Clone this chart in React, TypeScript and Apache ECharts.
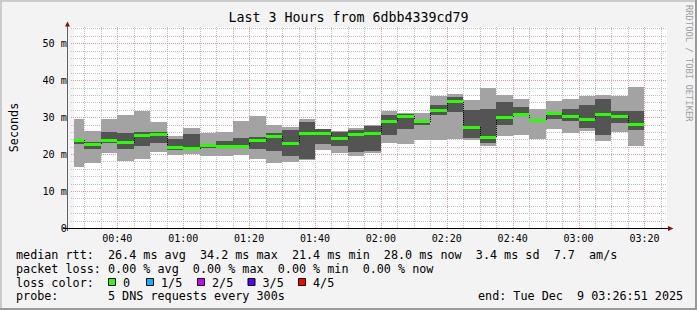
import React, { useEffect, useRef } from "react";
import * as echarts from "echarts";

// ---------- data ----------
const chartTitle = "Last 3 Hours from 6dbb4339cd79";
const yAxisName = "Seconds";
const watermark = "RRDTOOL / TOBI OETIKER";
const endTime = "03:26:51";
const rangeMinutes = 180;
const stepMinutes = 5;

// end time of each 5-minute step
const binEnd = [
  "00:30", "00:35", "00:40", "00:45", "00:50", "00:55", "01:00", "01:05", "01:10", "01:15",
  "01:20", "01:25", "01:30", "01:35", "01:40", "01:45", "01:50", "01:55", "02:00", "02:05",
  "02:10", "02:15", "02:20", "02:25", "02:30", "02:35", "02:40", "02:45", "02:50", "02:55",
  "03:00", "03:05", "03:10", "03:15", "03:20",
];
// sorted pings of each step, in ms
const pingMin = [16.6, 17.5, 20.3, 18.0, 18.6, 20.6, 19.7, 20.1, 19.6, 19.4, 19.8, 18.7, 17.7, 17.9, 18.4, 21.2, 20.4, 19.6, 20.2, 23.1, 22.6, 23.9, 23.9, 24.2, 23.9, 22.2, 24.9, 25.1, 24.2, 26.7, 25.6, 26.3, 23.6, 26.0, 22.1];
const pingLow = [22.6, 21.3, 23.0, 21.5, 22.1, 23.1, 21.2, 21.1, 21.6, 21.7, 21.6, 21.4, 20.9, 19.6, 18.6, 22.7, 22.3, 20.7, 20.8, 25.3, 26.9, 27.8, 30.5, 31.4, 24.4, 22.9, 28.0, 30.2, 28.9, 29.6, 29.0, 27.2, 25.1, 28.5, 26.4];
const medianRtt = [23.8, 22.6, 23.6, 23.1, 25.0, 25.4, 21.7, 21.4, 22.2, 22.1, 22.1, 23.6, 24.8, 23.0, 25.6, 25.6, 24.2, 25.2, 25.6, 28.9, 30.3, 28.7, 31.9, 34.2, 27.3, 24.6, 30.0, 30.7, 29.2, 31.1, 30.3, 29.4, 30.7, 30.2, 28.0];
const pingHigh = [24.2, 23.3, 26.0, 25.8, 26.0, 26.1, 24.1, 25.5, 22.6, 23.5, 24.4, 24.7, 25.8, 26.6, 28.7, 26.8, 25.9, 26.6, 27.7, 30.5, 30.8, 29.2, 33.4, 35.5, 32.0, 32.3, 34.1, 32.8, 29.6, 31.4, 32.1, 33.4, 35.0, 31.7, 31.7];
const pingMax = [29.5, 26.3, 29.5, 30.6, 31.7, 28.7, 25.0, 27.1, 25.8, 26.0, 28.9, 30.4, 28.0, 27.3, 29.5, 26.9, 26.2, 27.1, 27.9, 31.7, 31.2, 31.2, 35.6, 36.3, 34.7, 38.0, 36.1, 35.0, 32.3, 34.4, 35.0, 35.7, 35.9, 35.6, 38.2];

const xTickLabels = ["00:40", "01:00", "01:20", "01:40", "02:00", "02:20", "02:40", "03:00", "03:20"];
const yTickValues = [0, 10, 20, 30, 40, 50];
const yMax = 54.4;

const rttLabel = "median rtt:";
const rttStats = ["26.4 ms avg", "34.2 ms max", "21.4 ms min", "28.0 ms now", "3.4 ms sd", "7.7", "am/s"];
const lossLabel = "packet loss:";
const lossStats = ["0.00 % avg", "0.00 % max", "0.00 % min", "0.00 % now"];
const lossColorLabel = "loss color:";
const lossNames = ["0", "1/5", "2/5", "3/5", "4/5"];
const lossColors = ["#26ff00", "#00b8ff", "#d000ff", "#5a00ff", "#ff0000"];
const probeLabel = "probe:";
const probeText = "5 DNS requests every 300s";
const endText = "end: Tue Dec  9 03:26:51 2025";

// ---------- helpers ----------
const toMin = (t: string) => {
  const p = t.split(":").map(Number);
  return p[0] * 60 + p[1] + (p[2] || 0) / 60;
};
const fmt = (m: number) => {
  const r = Math.round(m);
  const h = Math.floor(r / 60);
  const mm = r % 60;
  return `${String(h).padStart(2, "0")}:${String(mm).padStart(2, "0")}`;
};
const nb = (s: string) => s.replace(/ /g, "\u00a0");
const pad = (s: string, n: number) => s + " ".repeat(Math.max(0, n - s.length));
const xMax = toMin(endTime);
const xMin = xMax - rangeMinutes;

const MONO = "'DejaVu Sans Mono', monospace";

export default function App() {
  const ref = useRef<HTMLDivElement>(null);
  useEffect(() => {
    document.body.style.margin = "0";
    if (!ref.current) return;
    const chart = echarts.init(ref.current, null, { renderer: "svg" });

    const binData = binEnd.map((t, i) => [
      toMin(t) - stepMinutes, toMin(t), pingMin[i], pingLow[i], medianRtt[i], pingHigh[i], pingMax[i], i,
    ]);

    const light = "#a3a3a3";
    const dark = "#545454";
    const green = "#26ff00";
    const minorGrid = "#c0c0c0";
    const majorGrid = "#e89a9a";
    const FS = 11.75;

    const txt = (text: string, x: number, y: number, extra: any = {}) => ({
      type: "text",
      x, y, z: 100,
      style: { text: nb(text), fill: "#000", fontFamily: MONO, fontSize: FS, verticalAlign: "middle", align: "left", ...extra },
    });

    const graphics: any[] = [];
    // 3D frame
    graphics.push({ type: "rect", shape: { x: 0, y: 0, width: 697, height: 2 }, style: { fill: "#cbcbcb" }, z: 100 });
    graphics.push({ type: "rect", shape: { x: 0, y: 0, width: 2, height: 310 }, style: { fill: "#cbcbcb" }, z: 100 });
    graphics.push({ type: "rect", shape: { x: 0, y: 308, width: 697, height: 2 }, style: { fill: "#999999" }, z: 100 });
    graphics.push({ type: "rect", shape: { x: 695, y: 0, width: 2, height: 310 }, style: { fill: "#999999" }, z: 100 });
    // axes and arrows
    graphics.push({ type: "line", z: 100, shape: { x1: 67.5, y1: 25, x2: 67.5, y2: 231 }, style: { stroke: "#606060", lineWidth: 1 } });
    graphics.push({ type: "line", z: 100, shape: { x1: 63, y1: 228.5, x2: 669, y2: 228.5 }, style: { stroke: "#000", lineWidth: 1 } });
    graphics.push({ type: "polygon", z: 101, shape: { points: [[65, 26.5], [70, 26.5], [67.5, 21.5]] }, style: { fill: "#8a1010" } });
    graphics.push({ type: "polygon", z: 101, shape: { points: [[668, 226], [668, 231], [673.5, 228.5]] }, style: { fill: "#8a1010" } });
    // watermark
    graphics.push({
      type: "text", x: 689, y: 5, rotation: -Math.PI / 2, z: 100,
      style: { text: nb(watermark), fill: "#a0a0a0", fontFamily: MONO, fontSize: 8.8, verticalAlign: "middle", align: "left" },
    });
    // stats (monospaced lines; item columns as in rrdtool's legend)
    const y1 = 255, y2 = 268.5, y3 = 282.5, y4 = 296;
    graphics.push(txt(pad(rttLabel, 13) + rttStats.join("  "), 16, y1));
    graphics.push(txt(pad(lossLabel, 13) + lossStats.join("  "), 16, y2));
    graphics.push(txt(lossColorLabel, 16, y3));
    const boxX = [108, 146, 197, 247.5, 298];
    lossNames.forEach((n, i) => {
      graphics.push({ type: "rect", z: 100, shape: { x: boxX[i] + 0.5, y: 278.5, width: 7, height: 7 }, style: { fill: lossColors[i], stroke: "#000", lineWidth: 1 } });
      graphics.push(txt(n, boxX[i] + 15, y3));
    });
    graphics.push(txt(pad(probeLabel, 13) + probeText, 16, y4));
    graphics.push(txt(endText, 478, y4));

    const option: any = {
      animation: false,
      backgroundColor: "#f3f3f3",
      textStyle: { fontFamily: MONO },
      title: {
        text: chartTitle, left: "center", top: 11, padding: 0,
        textStyle: { fontFamily: MONO, fontSize: 13.3, fontWeight: "normal", color: "#000" },
      },
      grid: { left: 67, top: 27, width: 600, height: 201, show: true, backgroundColor: "#ffffff", borderWidth: 0 },
      xAxis: {
        type: "value", min: xMin, max: xMax,
        axisLine: { show: false }, axisTick: { show: false }, splitLine: { show: false },
        axisLabel: {
          customValues: xTickLabels.map(toMin),
          formatter: (v: number) => fmt(v),
          fontFamily: MONO, fontSize: 10, color: "#000", margin: 5,
        },
      },
      yAxis: {
        type: "value", min: 0, max: yMax, interval: 10,
        name: yAxisName, nameLocation: "middle", nameGap: 54, nameRotate: 90,
        nameTextStyle: { fontFamily: MONO, fontSize: FS, color: "#000" },
        axisLine: { show: false }, axisTick: { show: false }, splitLine: { show: false },
        axisLabel: {
          formatter: (v: number) => (yTickValues.indexOf(v) < 0 ? "" : v === 0 ? "0" : nb(`${v} m`)),
          fontFamily: MONO, fontSize: 10.2, color: "#000", margin: 7,
        },
      },
      graphic: graphics,
      series: [
        {
          type: "custom", silent: true, z: 1,
          data: [[xMin + 1, 1]],
          renderItem: (params: any, api: any) => {
            const cs = params.coordSys;
            const children: any[] = [];
            for (let m = Math.ceil(xMin / 5) * 5; m <= xMax; m += 5) {
              const x = Math.round(api.coord([m, 0])[0]) + 0.5;
              children.push({
                type: "line", shape: { x1: x, y1: cs.y, x2: x, y2: cs.y + cs.height },
                style: { stroke: m % 20 === 0 ? majorGrid : minorGrid, lineWidth: 1, lineDash: [1, 1] },
              });
            }
            for (let v = 2; v <= yMax; v += 2) {
              const y = Math.round(api.coord([xMin, v])[1]) + 0.5;
              children.push({
                type: "line", shape: { x1: cs.x - 3, y1: y, x2: cs.x + cs.width, y2: y },
                style: { stroke: v % 10 === 0 ? majorGrid : minorGrid, lineWidth: 1, lineDash: [1, 1] },
              });
            }
            return { type: "group", children };
          },
        },
        {
          type: "custom", silent: true, z: 2,
          data: binData,
          renderItem: (params: any, api: any) => {
            const cs = params.coordSys;
            const i = api.value(7);
            const x0 = Math.max(Math.round(api.coord([api.value(0), 0])[0]), cs.x);
            const x1 = Math.round(api.coord([api.value(1), 0])[0]);
            const yy = (v: number) => Math.round(api.coord([xMin, v])[1]);
            const w = x1 - x0;
            const yMed = api.coord([xMin, api.value(4)])[1];
            const children: any[] = [
              { type: "rect", shape: { x: x0, y: yy(api.value(6)), width: w, height: yy(api.value(2)) - yy(api.value(6)) }, style: { fill: light } },
              { type: "rect", shape: { x: x0, y: yy(api.value(5)), width: w, height: yy(api.value(3)) - yy(api.value(5)) }, style: { fill: dark } },
            ];
            if (i > 0) {
              const yPrev = api.coord([xMin, medianRtt[i - 1]])[1];
              children.push({
                type: "line", shape: { x1: x0 + 0.5, y1: Math.round(yPrev), x2: x0 + 0.5, y2: Math.round(yMed) },
                style: { stroke: "#000", lineWidth: 1, lineDash: [1, 1] },
              });
            }
            children.push({ type: "rect", shape: { x: x0, y: Math.round(yMed - 1.5), width: w, height: 3 }, style: { fill: green } });
            return { type: "group", children };
          },
        },
      ],
    };
    chart.setOption(option);
    return () => chart.dispose();
  }, []);
  return <div ref={ref} style={{ width: 697, height: 310 }} />;
}
